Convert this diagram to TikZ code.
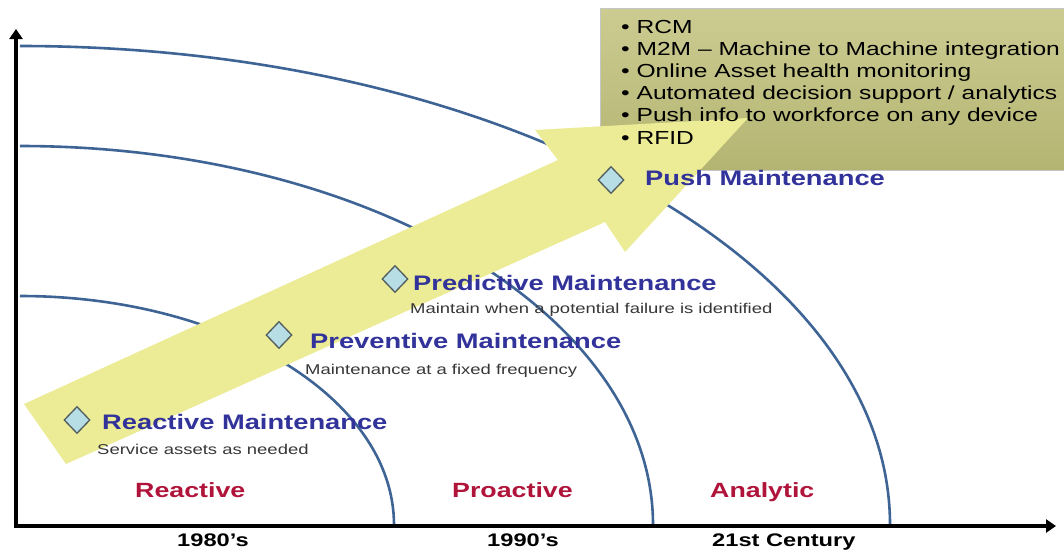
\documentclass[tikz,border=0pt]{standalone}
\usepackage{fontspec}
\setmainfont{Liberation Sans}
\newfontfamily\wf[FakeStretch=1.3]{Liberation Sans}
\usetikzlibrary{arrows.meta,shapes.geometric}
\definecolor{titleblue}{RGB}{50,50,155}
\definecolor{subgray}{RGB}{55,55,55}
\definecolor{phasered}{RGB}{176,20,58}
\definecolor{arcblue}{RGB}{62,100,150}
\definecolor{arrowyellow}{RGB}{236,236,150}
\definecolor{diamfill}{RGB}{182,222,228}
\definecolor{diamline}{RGB}{80,92,92}
\definecolor{boxtop}{RGB}{204,204,146}
\definecolor{boxbot}{RGB}{180,180,114}
\begin{document}
\begin{tikzpicture}[x=1pt,y=-1pt,
  title/.style={anchor=base west,inner sep=0pt,text=titleblue,font=\wf\bfseries\fontsize{21}{25}\selectfont},
  subtxt/.style={anchor=base west,inner sep=0pt,text=subgray,font=\wf\fontsize{14.2}{17}\selectfont},
  phase/.style={anchor=base west,inner sep=0pt,text=phasered,font=\wf\bfseries\fontsize{20.6}{24}\selectfont},
  era/.style={anchor=base west,inner sep=0pt,text=black,font=\wf\bfseries\fontsize{18.2}{22}\selectfont},
  bul/.style={anchor=base west,inner sep=0pt,text=black,font=\wf\fontsize{18.9}{22}\selectfont},
  diam/.style={diamond,draw=diamline,line width=1.3pt,fill=diamfill,minimum width=26pt,minimum height=27pt,inner sep=0pt},
  wave/.style={draw=arcblue,line width=2.6pt},
  axis/.style={draw=black,line width=3.6pt,-{Triangle[length=10pt,width=13pt]}}]
\useasboundingbox (0,0) rectangle (1064,552);
\clip (0,0) rectangle (1064,552);
\fill[white] (0,0) rectangle (1064,552);
% arcs
\draw[wave] (20,296) arc[start angle=-90,end angle=0,x radius=374,y radius=229];
\draw[wave] (20,146) arc[start angle=-90,end angle=0,x radius=633,y radius=379];
\draw[wave] (20,46) arc[start angle=-90,end angle=0,x radius=870,y radius=479];
% axes
\coordinate (o) at (16,528);
\coordinate (ytip) at (16,29);
\coordinate (xtip) at (1056,526);
\coordinate (o2) at (14,526);
\draw[axis] (o) -- (ytip);
\draw[axis] (o2) -- (xtip);
% box
\shade[top color=boxtop,bottom color=boxbot,draw=gray!45,line width=0.8pt] (600,8) rectangle (1075,170);
% yellow arrow
\fill[arrowyellow] (24,404) -- (558,160) -- (535,130) -- (748,118) -- (625,252) -- (605,222) -- (66,464) -- cycle;
% box text
\node[bul] (b1) at (621,33) {• RCM};
\node[bul] (b2) at (621,55) {• M2M – Machine to Machine integration};
\node[bul] (b3) at (621,77) {• Online Asset health monitoring};
\node[bul] (b4) at (621,99) {• Automated decision support / analytics};
\node[bul] (b5) at (621,121) {• Push info to workforce on any device};
\node[bul] (b6) at (621,144) {• RFID};
% diamonds
\node[diam] (d1) at (77,420) {};
\node[diam] (d2) at (279,335) {};
\node[diam] (d3) at (395,279) {};
\node[diam] (d4) at (611,180) {};
% titles
\node[title] (t1) at (102,429) {Reactive Maintenance};
\node[subtxt] (s1) at (97,454) {Service assets as needed};
\node[title] (t2) at (310,348) {Preventive Maintenance};
\node[subtxt] (s2) at (305,374) {Maintenance at a fixed frequency};
\node[title] (t3) at (413,290) {Predictive Maintenance};
\node[subtxt] (s3) at (410,313) {Maintain when a potential failure is identified};
\node[title] (t4) at (645,185) {Push Maintenance};
% phases
\node[phase] (p1) at (135,497) {Reactive};
\node[phase] (p2) at (452,497) {Proactive};
\node[phase] (p3) at (710,497) {Analytic};
% eras
\node[era] (e1) at (177,546) {1980’s};
\node[era] (e2) at (487,546) {1990’s};
\node[era] (e3) at (712,546) {21st Century};
\end{tikzpicture}
\end{document}
